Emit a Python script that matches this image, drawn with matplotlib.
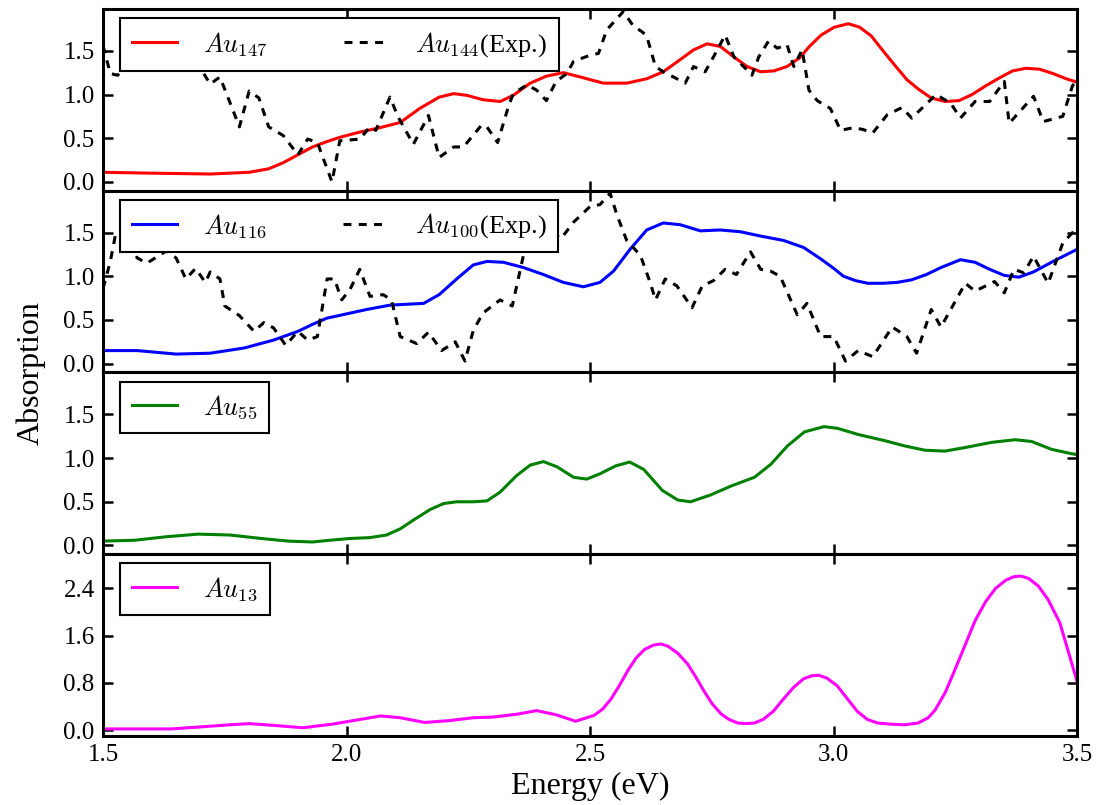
import numpy as np
import matplotlib
matplotlib.use("Agg")
import matplotlib.pyplot as plt
from matplotlib.ticker import FormatStrFormatter

plt.rcParams['font.family'] = ['Liberation Serif', 'DejaVu Serif']
plt.rcParams['mathtext.fontset'] = 'cm'

# ---------------- data ----------------
# Au147 (calc.)
e147 = [1.50, 1.60, 1.72, 1.80, 1.84, 1.87, 1.90, 1.93, 1.959, 1.986, 2.027, 2.068, 2.11,
        2.15, 2.19, 2.22, 2.247, 2.28, 2.315, 2.342, 2.377, 2.41, 2.445, 2.48, 2.527, 2.575,
        2.616, 2.65, 2.685, 2.712, 2.74, 2.767, 2.795, 2.822, 2.85, 2.877, 2.904, 2.93,
        2.95, 2.974, 3.001, 3.03, 3.053, 3.077, 3.101, 3.126, 3.15, 3.174, 3.20, 3.229,
        3.257, 3.284, 3.312, 3.34, 3.367, 3.394, 3.422, 3.45, 3.477, 3.50]
a147 = [0.11, 0.10, 0.09, 0.11, 0.15, 0.22, 0.31, 0.40, 0.46, 0.51, 0.57, 0.62, 0.68,
        0.84, 0.97, 1.01, 0.99, 0.94, 0.92, 0.99, 1.13, 1.21, 1.25, 1.20, 1.13, 1.13,
        1.18, 1.26, 1.40, 1.51, 1.58, 1.55, 1.43, 1.32, 1.26, 1.27, 1.32, 1.42,
        1.55, 1.68, 1.77, 1.81, 1.77, 1.67, 1.50, 1.33, 1.17, 1.06, 0.96, 0.92,
        0.93, 1.00, 1.10, 1.19, 1.27, 1.30, 1.29, 1.24, 1.18, 1.14]

# Au144 (Exp.)
e144 = [1.50, 1.515, 1.53, 1.56, 1.60, 1.64, 1.68, 1.70, 1.72, 1.74, 1.78, 1.80, 1.82, 1.84,
        1.87, 1.90, 1.92, 1.94, 1.97, 1.986, 2.027, 2.048, 2.06, 2.089, 2.106, 2.137, 2.168,
        2.19, 2.22, 2.24, 2.277, 2.288, 2.31, 2.332, 2.342, 2.37, 2.39, 2.41, 2.43, 2.452,
        2.466, 2.50, 2.517, 2.534, 2.56, 2.568, 2.589, 2.606, 2.616, 2.634, 2.65, 2.671,
        2.695, 2.712, 2.736, 2.753, 2.777, 2.795, 2.822, 2.832, 2.846, 2.866, 2.884, 2.904,
        2.918, 2.935, 2.949, 2.966, 2.993, 3.014, 3.04, 3.06, 3.08, 3.11, 3.14, 3.16, 3.21,
        3.24, 3.26, 3.29, 3.32, 3.35, 3.36, 3.41, 3.43, 3.47, 3.49, 3.50]
a144 = [1.56, 1.24, 1.22, 1.40, 1.50, 1.42, 1.35, 1.30, 1.12, 1.20, 0.63, 1.04, 0.96, 0.63,
        0.53, 0.31, 0.49, 0.45, 0.00, 0.47, 0.49, 0.63, 0.59, 0.97, 0.74, 0.43, 0.76,
        0.28, 0.40, 0.40, 0.65, 0.63, 0.45, 0.86, 1.01, 1.11, 1.05, 0.93, 1.15, 1.24,
        1.38, 1.45, 1.47, 1.74, 1.90, 1.95, 1.78, 1.72, 1.67, 1.32, 1.26, 1.20,
        1.13, 1.32, 1.26, 1.43, 1.68, 1.43, 1.28, 1.22, 1.43, 1.61, 1.53, 1.57,
        1.32, 1.51, 1.05, 0.93, 0.84, 0.59, 0.62, 0.60, 0.56, 0.77, 0.85, 0.73, 1.00,
        0.90, 0.73, 0.92, 0.92, 1.15, 0.67, 0.98, 0.69, 0.75, 1.10, 1.17]

# Au116 (calc.)
e116 = [1.50, 1.57, 1.65, 1.72, 1.79, 1.85, 1.90, 1.93, 1.959, 2.00, 2.041, 2.089, 2.123,
        2.158, 2.19, 2.226, 2.26, 2.288, 2.322, 2.363, 2.404, 2.445, 2.486, 2.52, 2.548,
        2.582, 2.616, 2.65, 2.685, 2.726, 2.767, 2.808, 2.85, 2.897, 2.938, 2.973, 3.00,
        3.02, 3.045, 3.07, 3.10, 3.13, 3.16, 3.19, 3.22, 3.26, 3.29, 3.32, 3.35, 3.38,
        3.41, 3.45, 3.50]
a116 = [0.15, 0.15, 0.11, 0.12, 0.18, 0.27, 0.37, 0.45, 0.52, 0.57, 0.62, 0.67, 0.68,
        0.69, 0.79, 0.97, 1.13, 1.17, 1.16, 1.10, 1.02, 0.93, 0.88, 0.93, 1.06,
        1.31, 1.53, 1.61, 1.59, 1.52, 1.53, 1.51, 1.46, 1.41, 1.33, 1.20, 1.09,
        1.00, 0.95, 0.92, 0.92, 0.93, 0.96, 1.02, 1.10, 1.19, 1.16, 1.08, 1.01, 0.99,
        1.05, 1.17, 1.31]

# Au100 (Exp.)
e100 = [1.50, 1.515, 1.525, 1.55, 1.57, 1.59, 1.63, 1.65, 1.67, 1.69, 1.71, 1.72, 1.74, 1.75,
        1.78, 1.81, 1.83, 1.85, 1.875, 1.90, 1.92, 1.94, 1.96, 1.975, 1.99, 2.007, 2.027,
        2.048, 2.075, 2.092, 2.11, 2.144, 2.168, 2.195, 2.223, 2.243, 2.26, 2.28, 2.315,
        2.34, 2.363, 2.39, 2.41, 2.44, 2.466, 2.50, 2.52, 2.541, 2.555, 2.575, 2.603, 2.623,
        2.634, 2.654, 2.678, 2.709, 2.73, 2.753, 2.777, 2.80, 2.829, 2.85, 2.87, 2.89,
        2.925, 2.945, 2.973, 3.00, 3.024, 3.05, 3.08, 3.12, 3.15, 3.17, 3.20, 3.22, 3.27,
        3.29, 3.33, 3.35, 3.37, 3.39, 3.41, 3.44, 3.47, 3.49, 3.50]
a100 = [0.86, 1.17, 1.46, 1.50, 1.21, 1.15, 1.29, 1.21, 0.97, 1.09, 0.93, 1.05, 0.97, 0.66,
        0.55, 0.37, 0.47, 0.41, 0.21, 0.37, 0.27, 0.31, 0.97, 0.97, 0.73, 0.85, 1.08,
        0.77, 0.79, 0.73, 0.31, 0.23, 0.36, 0.15, 0.25, 0.03, 0.38, 0.58, 0.73,
        0.66, 1.24, 1.60, 1.55, 1.43, 1.62, 1.80, 1.82, 1.95, 1.70, 1.41, 1.24, 0.93,
        0.73, 0.97, 0.89, 0.64, 0.89, 0.95, 1.08, 1.02, 1.28, 1.08, 1.06, 1.00,
        0.56, 0.69, 0.31, 0.31, 0.03, 0.15, 0.08, 0.42, 0.31, 0.12, 0.62, 0.42, 0.92,
        0.83, 0.94, 0.81, 1.08, 1.04, 1.23, 0.92, 1.38, 1.50, 1.45]

# Au55 (calc.)
e55 = [1.50, 1.565, 1.63, 1.695, 1.76, 1.825, 1.88, 1.93, 1.966, 2.007, 2.048, 2.082, 2.11,
       2.137, 2.171, 2.199, 2.226, 2.26, 2.288, 2.315, 2.349, 2.377, 2.404, 2.432, 2.466,
       2.493, 2.52, 2.552, 2.581, 2.61, 2.648, 2.68, 2.706, 2.748, 2.789, 2.837, 2.871,
       2.905, 2.94, 2.98, 3.008, 3.05, 3.104, 3.145, 3.187, 3.228, 3.269, 3.324, 3.372,
       3.406, 3.447, 3.488, 3.50]
a55 = [0.05, 0.06, 0.10, 0.13, 0.12, 0.08, 0.05, 0.04, 0.06, 0.08, 0.09, 0.12, 0.19,
       0.29, 0.41, 0.48, 0.50, 0.50, 0.51, 0.61, 0.80, 0.92, 0.96, 0.90, 0.78,
       0.76, 0.82, 0.91, 0.955, 0.87, 0.63, 0.52, 0.50, 0.58, 0.68, 0.78, 0.93,
       1.14, 1.30, 1.36, 1.34, 1.27, 1.20, 1.14, 1.09, 1.08, 1.12, 1.18, 1.21,
       1.19, 1.10, 1.05, 1.04]

# Au13 (calc.)
e13 = [1.50, 1.57, 1.64, 1.71, 1.76, 1.80, 1.85, 1.91, 1.97, 2.02, 2.07, 2.11, 2.16, 2.21,
       2.26, 2.30, 2.35, 2.39, 2.43, 2.47, 2.508, 2.526, 2.543, 2.561, 2.578, 2.595, 2.612,
       2.63, 2.645, 2.66, 2.68, 2.70, 2.716, 2.733, 2.75, 2.768, 2.785, 2.803, 2.82, 2.837,
       2.855, 2.876, 2.896, 2.917, 2.938, 2.955, 2.969, 2.986, 3.007, 3.028, 3.048, 3.069,
       3.09, 3.118, 3.145, 3.173, 3.194, 3.208, 3.229, 3.249, 3.27, 3.291, 3.312, 3.332,
       3.353, 3.37, 3.384, 3.40, 3.42, 3.44, 3.464, 3.48, 3.50]
a13 = [0.02, 0.02, 0.02, 0.06, 0.09, 0.11, 0.08, 0.04, 0.10, 0.17, 0.24, 0.21, 0.13, 0.16,
       0.21, 0.22, 0.27, 0.33, 0.26, 0.15, 0.25, 0.36, 0.53, 0.77, 1.02, 1.23, 1.37,
       1.44, 1.46, 1.42, 1.30, 1.12, 0.91, 0.67, 0.45, 0.28, 0.18, 0.12, 0.11, 0.12,
       0.18, 0.32, 0.52, 0.72, 0.87, 0.92, 0.93, 0.88, 0.75, 0.53, 0.32, 0.18,
       0.12, 0.10, 0.09, 0.12, 0.21, 0.34, 0.64, 1.03, 1.45, 1.87, 2.18, 2.40,
       2.54, 2.60, 2.61, 2.57, 2.44, 2.21, 1.82, 1.37, 0.81]

ticks_x = [1.5, 2.0, 2.5, 3.0, 3.5]
ticks_y = [0.0, 0.5, 1.0, 1.5]
ticks_y13 = [0.0, 0.8, 1.6, 2.4]

# ---------------- figure ----------------
fig = plt.figure(figsize=(10.96, 8.05), dpi=100)
fig.patch.set_facecolor('white')
gs = fig.add_gridspec(4, 1, left=0.094, right=0.983, top=0.989, bottom=0.0857, hspace=0.0)
axes = [fig.add_subplot(gs[i]) for i in range(4)]

lw = 2.2
dash = (0, (2.6, 2.4))

ax = axes[0]
ax.plot(e147, a147, color='#ff0000', lw=lw, label=r'$Au_{147}$', solid_joinstyle='round')
ax.plot(e144, a144, color='black', lw=lw, linestyle=dash, label=r'$Au_{144}$(Exp.)')

ax = axes[1]
ax.plot(e116, a116, color='#0000ff', lw=lw, label=r'$Au_{116}$', solid_joinstyle='round')
ax.plot(e100, a100, color='black', lw=lw, linestyle=dash, label=r'$Au_{100}$(Exp.)')

ax = axes[2]
ax.plot(e55, a55, color='#008000', lw=lw, label=r'$Au_{55}$', solid_joinstyle='round')

ax = axes[3]
ax.plot(e13, a13, color='#ff00ff', lw=lw, label=r'$Au_{13}$', solid_joinstyle='round')

for i, ax in enumerate(axes):
    ax.set_xlim(1.5, 3.5)
    ax.set_xticks(ticks_x)
    if i < 3:
        ax.set_ylim(-0.1, 1.98)
        ax.set_yticks(ticks_y)
    else:
        ax.set_ylim(-0.1, 2.98)
        ax.set_yticks(ticks_y13)
    ax.yaxis.set_major_formatter(FormatStrFormatter('%.1f'))
    ax.xaxis.set_major_formatter(FormatStrFormatter('%.1f'))
    ax.tick_params(direction='in', top=True, right=True, length=7, width=1.8,
                   labelsize=18, pad=6)
    if i < 3:
        ax.tick_params(labelbottom=False)
    for sp in ax.spines.values():
        sp.set_linewidth(2.2)
    ncol = 2 if i < 2 else 1
    leg = ax.legend(loc='upper left', bbox_to_anchor=(0.0175, 0.95), borderaxespad=0,
                    ncol=ncol, fontsize=19, fancybox=False, framealpha=1,
                    edgecolor='black', handlelength=1.7, handletextpad=1.0,
                    columnspacing=2.9, borderpad=0.45)
    leg.get_frame().set_linewidth(1.5)
    leg.set_zorder(5)

axes[3].set_xlabel('Energy (eV)', fontsize=23, labelpad=4)
fig.text(0.028, 0.537, 'Absorption', rotation=90, fontsize=23, ha='center', va='center')

fig.savefig('out.png', dpi=100, facecolor='white')
